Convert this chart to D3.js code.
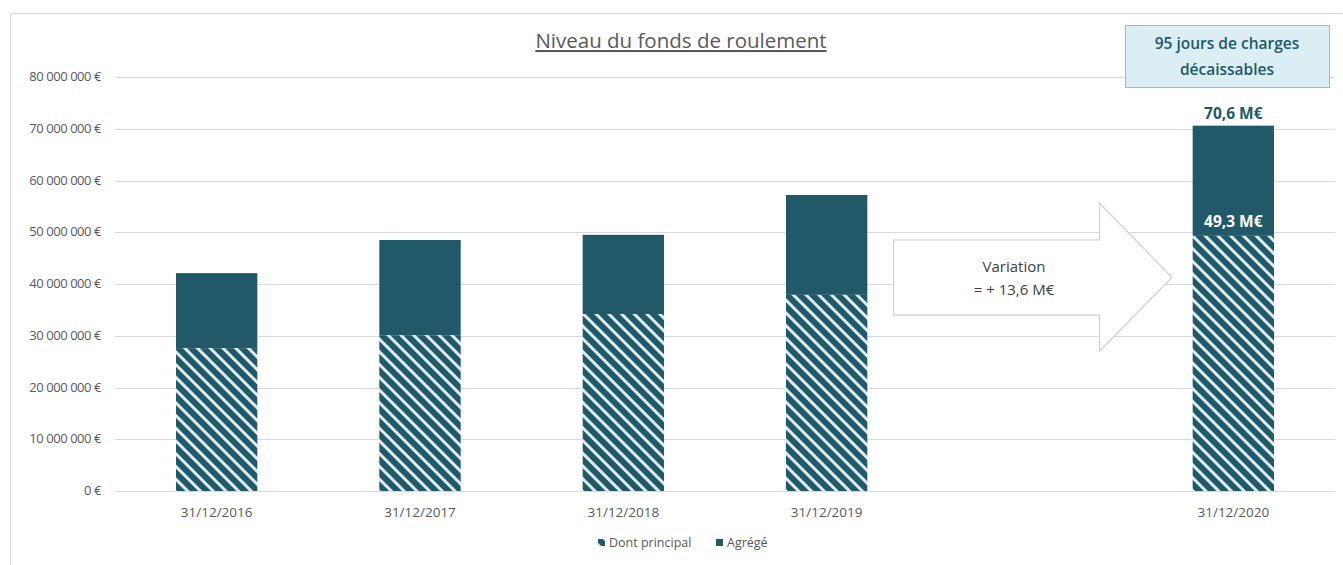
<!DOCTYPE html>
<html>
<head>
<meta charset="utf-8">
<script src="https://cdn.jsdelivr.net/npm/d3@7"></script>
<style>
  body { margin: 0; background: #fff; }
  text { font-family: "Open Sans", "Noto Sans", sans-serif; }
</style>
</head>
<body>
<div id="chart"></div>
<script>
// data
const categories = ["31/12/2016", "31/12/2017", "31/12/2018", "31/12/2019", "", "31/12/2020"];
const principal = [27.6e6, 30.1e6, 34.2e6, 37.9e6, null, 49.3e6];
const total = [42.1e6, 48.5e6, 49.5e6, 57.2e6, null, 70.6e6];
const yTicks = [0, 10e6, 20e6, 30e6, 40e6, 50e6, 60e6, 70e6, 80e6];
const seriesNames = ["Dont principal", "Agrégé"];

const width = 1343, height = 565;
const teal = "#215968", stripe = "#dcedf2", grid = "#d9d9d9", grey = "#595959";

const svg = d3.select("#chart").append("svg")
    .attr("width", width)
    .attr("height", height);

const defs = svg.append("defs");
const pat = defs.append("pattern")
    .attr("id", "hatch")
    .attr("patternUnits", "userSpaceOnUse")
    .attr("width", 9)
    .attr("height", 9)
    .attr("patternTransform", "rotate(-45)");
pat.append("rect").attr("width", 9).attr("height", 9).attr("fill", teal);
pat.append("rect").attr("x", 0).attr("width", 3).attr("height", 9).attr("fill", stripe);

// outer frame
svg.append("path")
    .attr("d", `M10.5,${height} V13.5 H${width}`)
    .attr("fill", "none")
    .attr("stroke", grid);

const x = d3.scaleBand().domain(d3.range(categories.length)).range([115, 1335]).paddingInner(0.6).paddingOuter(0.3);
const y = d3.scaleLinear().domain([0, 80e6]).range([491, 77]);

// grid
svg.append("g")
  .selectAll("line")
  .data(yTicks)
  .join("line")
    .attr("x1", 115).attr("x2", 1335)
    .attr("y1", d => Math.round(y(d)) + 0.5)
    .attr("y2", d => Math.round(y(d)) + 0.5)
    .attr("stroke", grid);

const fmt = d => d === 0 ? "0 €" : d3.format(",")(d).replace(/,/g, " ") + " €";
svg.append("g")
  .selectAll("text")
  .data(yTicks)
  .join("text")
    .attr("x", 101)
    .attr("y", d => y(d) + 4)
    .attr("text-anchor", "end")
    .attr("font-size", 13)
    .attr("letter-spacing", -0.45)
    .attr("fill", grey)
    .text(fmt);

// bars
const idx = d3.range(categories.length).filter(i => total[i] != null);
const bars = svg.append("g");
bars.selectAll("rect.agg")
  .data(idx)
  .join("rect")
    .attr("class", "agg")
    .attr("x", i => x(i))
    .attr("width", x.bandwidth())
    .attr("y", i => y(total[i]))
    .attr("height", i => y(principal[i]) - y(total[i]))
    .attr("fill", teal);
bars.selectAll("rect.pr")
  .data(idx)
  .join("rect")
    .attr("class", "pr")
    .attr("x", i => x(i))
    .attr("width", x.bandwidth())
    .attr("y", i => y(principal[i]))
    .attr("height", i => y(0) - y(principal[i]))
    .attr("fill", "url(#hatch)");

// x labels
svg.append("g")
  .selectAll("text")
  .data(categories)
  .join("text")
    .attr("x", (d, i) => x(i) + x.bandwidth() / 2)
    .attr("y", 517)
    .attr("text-anchor", "middle")
    .attr("font-size", 13.5)
    .attr("fill", grey)
    .text(d => d);

// value labels on last bar
const last = categories.length - 1;
const cx = x(last) + x.bandwidth() / 2;
const fmtM = v => d3.format(".1f")(v / 1e6).replace(".", ",") + " M€";
svg.append("text")
    .attr("x", cx).attr("y", y(total[last]) - 7)
    .attr("text-anchor", "middle")
    .attr("font-size", 15.5).attr("font-weight", 700)
    .attr("fill", teal)
    .text(fmtM(total[last]));
svg.append("text")
    .attr("x", cx).attr("y", y(principal[last]) - 9)
    .attr("text-anchor", "middle")
    .attr("font-size", 15.5).attr("font-weight", 700)
    .attr("fill", "#ffffff")
    .text(fmtM(principal[last]));

// callout box
svg.append("rect")
    .attr("x", 1125.5).attr("y", 25.5)
    .attr("width", 204).attr("height", 62)
    .attr("fill", "#dbeef3")
    .attr("stroke", "#b4b4b4");
svg.append("text")
    .attr("x", 1227).attr("y", 49)
    .attr("text-anchor", "middle")
    .attr("font-size", 15.5).attr("font-weight", 600)
    .attr("fill", teal)
    .text("95 jours de charges");
svg.append("text")
    .attr("x", 1227).attr("y", 75)
    .attr("text-anchor", "middle")
    .attr("font-size", 15.5).attr("font-weight", 600)
    .attr("fill", teal)
    .text("décaissables");

// variation arrow
const ax0 = 893.5, ax1 = 1172, axh = 1099.5;
const sTop = y(48.5e6), sBot = y(34e6), hTop = y(55.6e6), hBot = y(27e6);
const mid = (sTop + sBot) / 2;
svg.append("path")
    .attr("d", `M${ax0},${sTop} H${axh} V${hTop} L${ax1},${(hTop + hBot) / 2} L${axh},${hBot} V${sBot} H${ax0} Z`)
    .attr("fill", "#fff")
    .attr("stroke", "#d0d0d0")
    .attr("stroke-width", 1.2);
const variation = total[last] - total[3];
svg.append("text")
    .attr("x", 1014).attr("y", mid - 6)
    .attr("text-anchor", "middle")
    .attr("font-size", 15)
    .attr("fill", "#404040")
    .text("Variation");
svg.append("text")
    .attr("x", 1014).attr("y", mid + 17)
    .attr("text-anchor", "middle")
    .attr("font-size", 15)
    .attr("fill", "#404040")
    .text("= + " + fmtM(variation + 0.2e6));

// title
svg.append("text")
    .attr("x", 681).attr("y", 48)
    .attr("text-anchor", "middle")
    .attr("font-size", 20.5)
    .attr("fill", grey)
    .attr("text-decoration", "underline")
    .text("Niveau du fonds de roulement");

// legend
const legend = svg.append("g").attr("transform", "translate(598,547)");
const items = [{ name: seriesNames[0], fill: "url(#hatch)", x: 0 }, { name: seriesNames[1], fill: teal, x: 118 }];
legend.selectAll("rect")
  .data(items)
  .join("rect")
    .attr("x", d => d.x).attr("y", -8)
    .attr("width", 7).attr("height", 7)
    .attr("fill", d => d.fill);
legend.selectAll("text")
  .data(items)
  .join("text")
    .attr("x", d => d.x + 11).attr("y", 0)
    .attr("font-size", 12.5)
    .attr("fill", grey)
    .text(d => d.name);
</script>
</body>
</html>
